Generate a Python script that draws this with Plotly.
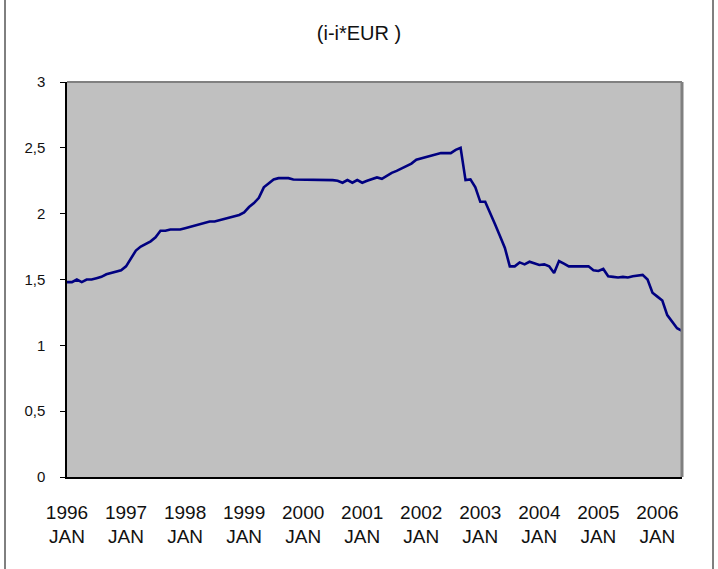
import plotly.graph_objects as go

title_text = "(i-i*EUR )"
year_labels = ["1996", "1997", "1998", "1999", "2000", "2001", "2002", "2003", "2004", "2005", "2006"]
month_label = "JAN"
y_tick_values = [0, 0.5, 1, 1.5, 2, 2.5, 3]
y_tick_labels = ["0", "0,5", "1", "1,5", "2", "2,5", "3"]

# monthly values, 1996 JAN .. 2006 JUN
values = [
    # 1996
    1.48, 1.48, 1.50, 1.48, 1.50, 1.50, 1.51, 1.52, 1.54, 1.55, 1.56, 1.57,
    # 1997
    1.60, 1.66, 1.72, 1.75, 1.77, 1.79, 1.82, 1.87, 1.87, 1.88, 1.88, 1.88,
    # 1998
    1.89, 1.90, 1.91, 1.92, 1.93, 1.94, 1.94, 1.95, 1.96, 1.97, 1.98, 1.99,
    # 1999
    2.01, 2.05, 2.08, 2.12, 2.20, 2.23, 2.26, 2.27, 2.27, 2.27, 2.26, 2.26,
    # 2000
    2.26, 2.26, 2.26, 2.26, 2.26, 2.26, 2.255, 2.25, 2.235, 2.255, 2.235, 2.255,
    # 2001
    2.235, 2.25, 2.265, 2.275, 2.265, 2.29, 2.31, 2.325, 2.345, 2.36, 2.38, 2.41,
    # 2002
    2.42, 2.435, 2.445, 2.455, 2.46, 2.46, 2.46, 2.485, 2.50, 2.255, 2.26, 2.20,
    # 2003
    2.09, 2.09, 2.01, 1.92, 1.83, 1.74, 1.60, 1.60, 1.63, 1.615, 1.635, 1.62,
    # 2004
    1.61, 1.615, 1.60, 1.55, 1.64, 1.62, 1.60, 1.60, 1.60, 1.595, 1.60, 1.57,
    # 2005
    1.565, 1.58, 1.525, 1.52, 1.515, 1.52, 1.515, 1.525, 1.53, 1.535, 1.50, 1.40,
    # 2006
    1.37, 1.34, 1.23, 1.18, 1.13, 1.11,
]

months = list(range(len(values)))
tick_positions = [12 * k for k in range(len(year_labels))]
tick_text = [f"{y}<br>{month_label}" for y in year_labels]

FONT = "Liberation Sans, Arial, sans-serif"

fig = go.Figure()
fig.add_trace(go.Scatter(
    x=months, y=values, mode="lines",
    line=dict(color="#000080", width=2.6),
    hoverinfo="skip", showlegend=False,
))

fig.update_layout(
    width=718, height=569,
    margin=dict(l=67, r=36, t=82, b=92, pad=0),
    paper_bgcolor="white",
    plot_bgcolor="#C0C0C0",
    font=dict(family=FONT, size=19, color="black"),
    title=dict(text=title_text, x=0.5, xref="container", xanchor="center",
               y=1 - 33 / 569, yref="container", yanchor="middle",
               font=dict(family=FONT, size=20, color="#111111")),
    showlegend=False,
)

fig.update_xaxes(
    range=[0, len(values) - 1],
    tickmode="array", tickvals=tick_positions, ticktext=tick_text,
    ticks="", showgrid=False, zeroline=False,
    showline=True, linecolor="black", linewidth=1.5,
    ticklabelstandoff=17,
    tickfont=dict(family=FONT, size=19, color="#111111"),
)
fig.update_yaxes(
    range=[0, 3],
    tickmode="array", tickvals=y_tick_values, ticktext=y_tick_labels,
    ticks="outside", ticklen=5, tickcolor="black", tickwidth=1,
    showgrid=False, zeroline=False,
    showline=True, linecolor="black", linewidth=1.5,
    ticklabelstandoff=12,
    tickfont=dict(family=FONT, size=15, color="#111111"),
)

# plot area border (top/right)
fig.add_shape(type="line", xref="paper", yref="paper", x0=0, x1=1, y0=1, y1=1,
              line=dict(color="#808080", width=2))
fig.add_shape(type="line", xref="paper", yref="paper", x0=1, x1=1, y0=0, y1=1,
              line=dict(color="#808080", width=3))
# outer chart frame (left and right edges visible)
fig.add_shape(type="line", xref="paper", yref="paper",
              x0=(5 - 67) / 615, x1=(5 - 67) / 615, y0=-0.3, y1=1.3,
              line=dict(color="black", width=1))
fig.add_shape(type="line", xref="paper", yref="paper",
              x0=(713 - 67) / 615, x1=(713 - 67) / 615, y0=-0.3, y1=1.3,
              line=dict(color="black", width=1))

fig.write_html("out.html", config={"displayModeBar": False},
               post_script="document.body.style.margin='0';document.body.style.overflow='hidden';")
